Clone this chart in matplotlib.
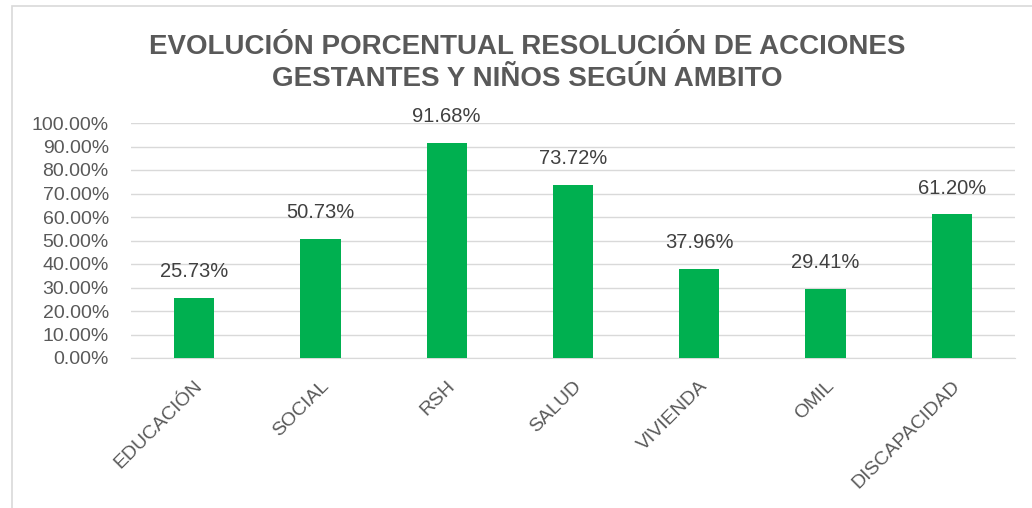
import matplotlib

matplotlib.use("Agg")
import matplotlib.pyplot as plt  # noqa: E402
from matplotlib.patches import Rectangle  # noqa: E402

categorias = ["EDUCACIÓN", "SOCIAL", "RSH", "SALUD", "VIVIENDA", "OMIL", "DISCAPACIDAD"]
porcentajes = [25.73, 50.73, 91.68, 73.72, 37.96, 29.41, 61.20]
ticks_y = [0, 10, 20, 30, 40, 50, 60, 70, 80, 90, 100]

GRIS = "#595959"
VERDE = "#00b050"

plt.rcParams["font.family"] = ["Liberation Sans", "DejaVu Sans"]

fig = plt.figure(figsize=(10.32, 5.08), dpi=100)
fig.patches.append(Rectangle((12 / 1032, -0.05), 1.1, 1.05 - 6 / 508,
                             transform=fig.transFigure, fill=False,
                             edgecolor="#d9d9d9", linewidth=1.2))

ax = fig.add_axes([131 / 1032, 150 / 508, 884 / 1032, 235 / 508])
x = range(len(categorias))
ax.bar(x, porcentajes, width=0.32, color=VERDE, zorder=3)
for xi, v in zip(x, porcentajes):
    ax.annotate(f"{v:.2f}%", (xi, v), xytext=(0, 12), textcoords="offset points",
                ha="center", va="bottom", fontsize=14.5, color="#404040")

ax.set_xlim(-0.5, len(categorias) - 0.5)
ax.set_ylim(0, 100)
ax.set_yticks(ticks_y)
ax.set_yticklabels([f"{t:.2f}%" for t in ticks_y], fontsize=14, color=GRIS)
ax.set_xticks(list(x))
ax.set_xticklabels(categorias, rotation=45, ha="right", rotation_mode="anchor",
                   fontsize=14, color=GRIS)
ax.tick_params(axis="y", length=0, pad=16)
ax.tick_params(axis="x", length=0, pad=14)
ax.grid(axis="y", color="#d9d9d9", linewidth=1, zorder=0)
for side in ["top", "right", "left"]:
    ax.spines[side].set_visible(False)
ax.spines["bottom"].set_color("#d9d9d9")

fig.text(527 / 1032, 1 - 63 / 508,
         "EVOLUCIÓN PORCENTUAL RESOLUCIÓN DE ACCIONES\nGESTANTES Y NIÑOS SEGÚN AMBITO",
         ha="center", va="center", fontsize=20, fontweight="bold", color=GRIS,
         linespacing=1.3)

fig.savefig("out.png", dpi=100)
